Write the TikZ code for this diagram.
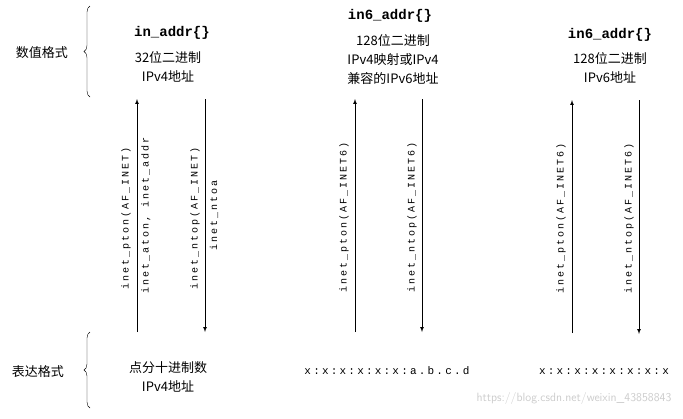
\documentclass[tikz,border=0pt]{standalone}
\usepackage{fontspec}
\newfontfamily\cjk{Noto Sans CJK SC}
\newfontfamily\code[LetterSpace=20]{Liberation Mono}
\newfontfamily\headcode{Liberation Mono}
\usetikzlibrary{decorations.pathreplacing}
\tikzset{
  txt/.style={font=\cjk\fontsize{13}{19}\selectfont, align=center, inner sep=0pt},
  head/.style={font=\headcode\bfseries\fontsize{14}{16}\selectfont, inner sep=0pt},
  fn/.style={font=\code\fontsize{10}{12}\selectfont, rotate=90, inner sep=0pt},
  addr/.style={font=\code\fontsize{11}{14}\selectfont, inner sep=0pt},
  conv/.style={-latex, line width=0.7pt},
}
\begin{document}
\begin{tikzpicture}[x=1pt,y=-1pt]
\useasboundingbox (0,0) rectangle (683,418);
      \begin{scope}[shift={(0,0)}]
\draw[decorate,decoration={brace,amplitude=6pt}] (90,97) -- (90,6);
\draw[decorate,decoration={brace,amplitude=6pt}] (90,408) -- (90,332);
\node[txt] (num) at (42,53) {数值格式};
\node[txt] (pres) at (38,372) {表达格式};
\node[head] (h1) at (172,33) {in\_addr\{\}};
\node[txt] (n1) at (168,67) {32位二进制\\IPv4地址};
\node[head] (h2) at (390,16) {in6\_addr\{\}};
\node[txt] (n2) at (393,60) {128位二进制\\IPv4映射或IPv4\\兼容的IPv6地址};
\node[head] (h3) at (610,35) {in6\_addr\{\}};
\node[txt] (n3) at (610,68) {128位二进制\\IPv6地址};
\node[txt] (p1) at (168,377) {点分十进制数\\IPv4地址};
\node[addr] (p2) at (387,371) {x:x:x:x:x:x:a.b.c.d};
\node[addr] (p3) at (604,372) {x:x:x:x:x:x:x:x};
\coordinate (u1a) at (137,332); \coordinate (u1b) at (137,99);
\coordinate (d1a) at (205,99); \coordinate (d1b) at (205,332);
\coordinate (u2a) at (355,332); \coordinate (u2b) at (355,99);
\coordinate (d2a) at (422,99); \coordinate (d2b) at (422,332);
\coordinate (u3a) at (572,333); \coordinate (u3b) at (572,100);
\coordinate (d3a) at (639,100); \coordinate (d3b) at (639,334);
\draw[conv] (u1a) -- (u1b);
\draw[conv] (d1a) -- (d1b);
\draw[conv] (u2a) -- (u2b);
\draw[conv] (d2a) -- (d2b);
\draw[conv] (u3a) -- (u3b);
\draw[conv] (d3a) -- (d3b);
\node[fn] (f1) at (126,218) {inet\_pton(AF\_INET)};
\node[fn] (f2) at (146,215) {inet\_aton, inet\_addr};
\node[fn] (f3) at (195,218) {inet\_ntop(AF\_INET)};
\node[fn] (f4) at (214,215) {inet\_ntoa};
\node[fn] (f5) at (344,217) {inet\_pton(AF\_INET6)};
\node[fn] (f6) at (412,217) {inet\_ntop(AF\_INET6)};
\node[fn] (f7) at (561,218) {inet\_pton(AF\_INET6)};
\node[fn] (f8) at (629,218) {inet\_ntop(AF\_INET6)};
\node[font=\sffamily\fontsize{12}{14}\selectfont, text=black!20, inner sep=0pt] (wm) at (574,398) {https://blog.csdn.net/weixin\_43858843};
\end{scope}
    \end{tikzpicture}
\end{document}
